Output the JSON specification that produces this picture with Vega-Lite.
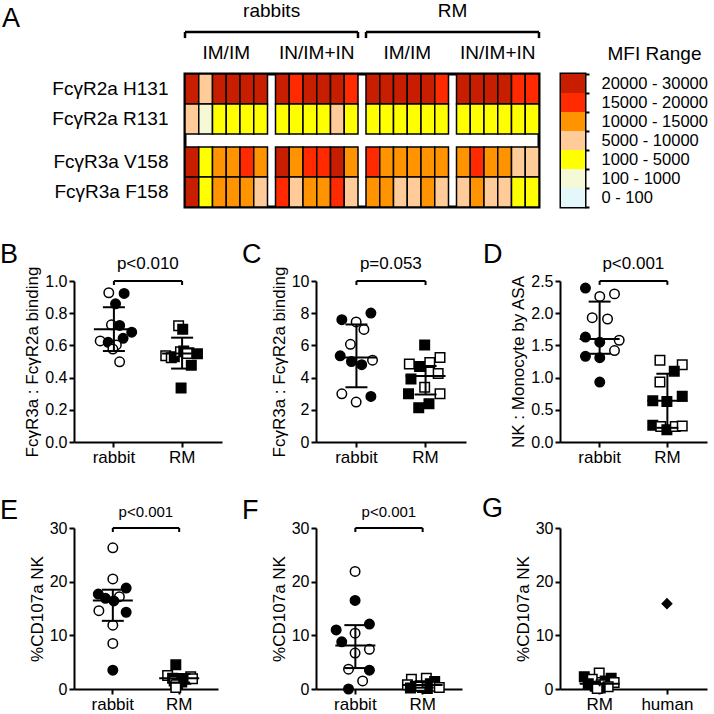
{
"$schema":"https://vega.github.io/schema/vega-lite/v6.json",
"padding":{"left":0,"top":0,"right":0,"bottom":0},
"background":"white",
"config":{
 "view":{"stroke":null},
 "font":"Liberation Sans",
 "axis":{"labelFont":"Liberation Sans","titleFont":"Liberation Sans","labelFontSize":16,"titleFontSize":17,"titleFontWeight":"normal","domainColor":"black","domainWidth":2,"tickColor":"black","tickWidth":2,"tickSize":5,"labelColor":"black","titleColor":"black","grid":false,"titlePadding":3},
 "title":{"font":"Liberation Sans","fontSize":27,"fontWeight":"normal","anchor":"start","frame":"group","color":"black","offset":0,"baseline":"alphabetic"},
 "text":{"font":"Liberation Sans","color":"black"}
},
"spacing":30,
"vconcat":[
{"hconcat":[
 {"width":89,"height":133,"data":{"values":[{}]},"mark":{"type":"rect","opacity":0},"encoding":{}},
 {"width":354,"height":133,
  "title":{"text":"A","dx":-183,"dy":35},
  "view":{"stroke":"black","strokeWidth":3},
  "resolve":{"scale":{"y":"independent"}},
  "layer":[
   {"data":{"values":[
{"b":"rabbits IM/IM","s":1,"H131":"20000 - 30000","R131":"5000 - 10000","V158":"20000 - 30000","F158":"20000 - 30000"},
{"b":"rabbits IM/IM","s":2,"H131":"5000 - 10000","R131":"100 - 1000","V158":"1000 - 5000","F158":"1000 - 5000"},
{"b":"rabbits IM/IM","s":3,"H131":"20000 - 30000","R131":"1000 - 5000","V158":"10000 - 15000","F158":"10000 - 15000"},
{"b":"rabbits IM/IM","s":4,"H131":"20000 - 30000","R131":"1000 - 5000","V158":"10000 - 15000","F158":"10000 - 15000"},
{"b":"rabbits IM/IM","s":5,"H131":"20000 - 30000","R131":"1000 - 5000","V158":"15000 - 20000","F158":"10000 - 15000"},
{"b":"rabbits IM/IM","s":6,"H131":"20000 - 30000","R131":"1000 - 5000","V158":"10000 - 15000","F158":"5000 - 10000"},
{"b":"rabbits IN/IM+IN","s":1,"H131":"20000 - 30000","R131":"1000 - 5000","V158":"20000 - 30000","F158":"15000 - 20000"},
{"b":"rabbits IN/IM+IN","s":2,"H131":"15000 - 20000","R131":"1000 - 5000","V158":"10000 - 15000","F158":"5000 - 10000"},
{"b":"rabbits IN/IM+IN","s":3,"H131":"20000 - 30000","R131":"1000 - 5000","V158":"15000 - 20000","F158":"10000 - 15000"},
{"b":"rabbits IN/IM+IN","s":4,"H131":"20000 - 30000","R131":"1000 - 5000","V158":"15000 - 20000","F158":"10000 - 15000"},
{"b":"rabbits IN/IM+IN","s":5,"H131":"20000 - 30000","R131":"5000 - 10000","V158":"20000 - 30000","F158":"15000 - 20000"},
{"b":"rabbits IN/IM+IN","s":6,"H131":"15000 - 20000","R131":"1000 - 5000","V158":"10000 - 15000","F158":"5000 - 10000"},
{"b":"RM IM/IM","s":1,"H131":"20000 - 30000","R131":"1000 - 5000","V158":"15000 - 20000","F158":"10000 - 15000"},
{"b":"RM IM/IM","s":2,"H131":"20000 - 30000","R131":"1000 - 5000","V158":"10000 - 15000","F158":"10000 - 15000"},
{"b":"RM IM/IM","s":3,"H131":"20000 - 30000","R131":"1000 - 5000","V158":"10000 - 15000","F158":"5000 - 10000"},
{"b":"RM IM/IM","s":4,"H131":"20000 - 30000","R131":"1000 - 5000","V158":"10000 - 15000","F158":"5000 - 10000"},
{"b":"RM IM/IM","s":5,"H131":"20000 - 30000","R131":"1000 - 5000","V158":"10000 - 15000","F158":"10000 - 15000"},
{"b":"RM IM/IM","s":6,"H131":"15000 - 20000","R131":"1000 - 5000","V158":"10000 - 15000","F158":"5000 - 10000"},
{"b":"RM IN/IM+IN","s":1,"H131":"20000 - 30000","R131":"1000 - 5000","V158":"10000 - 15000","F158":"5000 - 10000"},
{"b":"RM IN/IM+IN","s":2,"H131":"20000 - 30000","R131":"1000 - 5000","V158":"15000 - 20000","F158":"10000 - 15000"},
{"b":"RM IN/IM+IN","s":3,"H131":"20000 - 30000","R131":"1000 - 5000","V158":"10000 - 15000","F158":"5000 - 10000"},
{"b":"RM IN/IM+IN","s":4,"H131":"20000 - 30000","R131":"1000 - 5000","V158":"10000 - 15000","F158":"5000 - 10000"},
{"b":"RM IN/IM+IN","s":5,"H131":"15000 - 20000","R131":"1000 - 5000","V158":"5000 - 10000","F158":"1000 - 5000"},
{"b":"RM IN/IM+IN","s":6,"H131":"15000 - 20000","R131":"1000 - 5000","V158":"5000 - 10000","F158":"1000 - 5000"}
   ]},
   "transform":[
    {"fold":["H131","R131","V158","F158"],"as":["allele","r"]},
    {"calculate":"indexof(['H131','R131'], datum.allele) >= 0 ? 'FcγR2a' : 'FcγR3a'","as":"rec"},
    {"calculate":"indexof(['H131','V158'], datum.allele) >= 0 ? 'high' : 'low'","as":"aff"}
   ],
   "mark":{"type":"rect","stroke":"black","strokeWidth":1.5},
   "encoding":{
    "x":{"field":"b","type":"nominal","scale":{"domain":["rabbits IM/IM","rabbits IN/IM+IN","RM IM/IM","RM IN/IM+IN"],"paddingInner":0.0884,"paddingOuter":0},"axis":null},
    "xOffset":{"field":"s","type":"ordinal","scale":{"paddingInner":0,"paddingOuter":0}},
    "y":{"field":"rec","type":"nominal","scale":{"domain":["FcγR2a","FcγR3a"],"paddingInner":0.178,"paddingOuter":0},"axis":{"title":null,"ticks":false,"domain":false,"labelFontSize":19,"labelPadding":17,"labelLineHeight":30,"labelOffset":-15,"labelExpr":"datum.value == 'FcγR2a' ? ['FcγR2a H131','FcγR2a R131'] : ['FcγR3a V158','FcγR3a F158']"}},
    "yOffset":{"field":"aff","type":"nominal","scale":{"domain":["high","low"],"paddingInner":0,"paddingOuter":0}},
    "color":{"field":"r","type":"nominal","scale":{"domain":["20000 - 30000","15000 - 20000","10000 - 15000","5000 - 10000","1000 - 5000","100 - 1000","0 - 100"],"range":["#c81e00","#ff2a00","#ff9400","#ffcc99","#ffff00","#f5f9d6","#e4f7fb"]},"legend":null}
   }},
   {"layer":[
     {"data":{"values":[{"b":"rabbits IM/IM","t":"IM/IM"},{"b":"rabbits IN/IM+IN","t":"IN/IM+IN"},{"b":"RM IM/IM","t":"IM/IM"},{"b":"RM IN/IM+IN","t":"IN/IM+IN"}]},
      "mark":{"type":"text","fontSize":19,"baseline":"middle","align":"center"},
      "encoding":{"x":{"field":"b","type":"nominal","axis":null},"y":{"datum":1.158,"type":"quantitative","scale":{"domain":[0,1],"nice":false,"zero":false},"axis":null},"text":{"field":"t"}}},
     {"data":{"values":[{"sp":"rabbits","f":"rabbits IM/IM","l":"rabbits IN/IM+IN"},{"sp":"RM","f":"RM IM/IM","l":"RM IN/IM+IN"}]},
      "layer":[
       {"mark":{"type":"text","fontSize":19,"baseline":"middle","align":"center"},
        "encoding":{"x":{"field":"f","type":"nominal","bandPosition":1.05,"axis":null},"y":{"datum":1.47,"type":"quantitative","scale":{"domain":[0,1],"nice":false,"zero":false},"axis":null},"text":{"field":"sp"}}},
       {"mark":{"type":"rule","color":"black","strokeWidth":2.5},
        "encoding":{"x":{"field":"f","type":"nominal","bandPosition":0,"axis":null},"x2":{"field":"l","bandPosition":1},"y":{"datum":1.316,"type":"quantitative","scale":{"domain":[0,1],"nice":false,"zero":false},"axis":null}}},
       {"mark":{"type":"rule","color":"black","strokeWidth":2.5},
        "encoding":{"x":{"field":"f","type":"nominal","bandPosition":0,"axis":null},"y":{"datum":1.316,"type":"quantitative","scale":{"domain":[0,1],"nice":false,"zero":false},"axis":null},"y2":{"datum":1.27}}},
       {"mark":{"type":"rule","color":"black","strokeWidth":2.5},
        "encoding":{"x":{"field":"l","type":"nominal","bandPosition":1,"axis":null},"y":{"datum":1.316,"type":"quantitative","scale":{"domain":[0,1],"nice":false,"zero":false},"axis":null},"y2":{"datum":1.27}}}
      ]}
   ]}
  ]},
 {"width":24,"height":133,
  "view":{"stroke":"black","strokeWidth":3},
  "data":{"values":[{"r":"20000 - 30000"},{"r":"15000 - 20000"},{"r":"10000 - 15000"},{"r":"5000 - 10000"},{"r":"1000 - 5000"},{"r":"100 - 1000"},{"r":"0 - 100"}]},
  "mark":{"type":"rect"},
  "encoding":{
   "y":{"field":"r","type":"nominal","scale":{"domain":["20000 - 30000","15000 - 20000","10000 - 15000","5000 - 10000","1000 - 5000","100 - 1000","0 - 100"],"paddingInner":0,"paddingOuter":0},"axis":{"orient":"right","title":"MFI Range","titleAngle":0,"titleAlign":"left","titleBaseline":"middle","titleX":22,"titleY":-21,"titleFontSize":19,"labelFontSize":16.5,"labelPadding":12,"tickBand":"extent","tickSize":4,"domain":false}},
   "color":{"field":"r","type":"nominal","scale":{"domain":["20000 - 30000","15000 - 20000","10000 - 15000","5000 - 10000","1000 - 5000","100 - 1000","0 - 100"],"range":["#c81e00","#ff2a00","#ff9400","#ffcc99","#ffff00","#f5f9d6","#e4f7fb"]},"legend":null}
  }}
 ],"spacing":22,"bounds":"flush"},
{"hconcat":[
 {"width":148,"height":161,
  "title":{"text":"B","dx":-74,"dy":18},
  "layer":[
   {"data":{"values":[
    {"g":"rabbit","m":"open","v":0.927,"j":-0.25},{"g":"rabbit","m":"filled","v":0.923,"j":0.5},{"g":"rabbit","m":"filled","v":0.858,"j":0.08},{"g":"rabbit","m":"open","v":0.728,"j":-0.12},{"g":"rabbit","m":"filled","v":0.724,"j":0.28},{"g":"rabbit","m":"filled","v":0.682,"j":0.87},{"g":"rabbit","m":"filled","v":0.644,"j":0.45},{"g":"rabbit","m":"open","v":0.628,"j":-0.67},{"g":"rabbit","m":"filled","v":0.619,"j":-0.28},{"g":"rabbit","m":"open","v":0.603,"j":0.12},{"g":"rabbit","m":"open","v":0.577,"j":-0.05},{"g":"rabbit","m":"open","v":0.498,"j":0.28},
    {"g":"RM","m":"open","v":0.722,"j":-0.17},{"g":"RM","m":"filled","v":0.70,"j":0.03},{"g":"RM","m":"open","v":0.535,"j":-0.8},{"g":"RM","m":"open","v":0.523,"j":-0.53},{"g":"RM","m":"filled","v":0.53,"j":-0.38},{"g":"RM","m":"open","v":0.56,"j":-0.08},{"g":"RM","m":"filled","v":0.565,"j":0.08},{"g":"RM","m":"open","v":0.554,"j":0.33},{"g":"RM","m":"filled","v":0.548,"j":0.75},{"g":"RM","m":"filled","v":0.477,"j":0.45},{"g":"RM","m":"filled","v":0.335,"j":-0.05},{"g":"RM","m":"open","v":0.55,"j":0.25}
   ]},
   "mark":{"type":"point","filled":true,"size":90,"stroke":"black","strokeWidth":1.5,"opacity":1},
   "encoding":{
    "x":{"field":"g","type":"nominal","scale":{"domain":["rabbit","RM"],"paddingInner":0.4,"paddingOuter":0.285},"axis":{"title":null,"labelAngle":0,"labelFontSize":17}},
    "xOffset":{"field":"j","type":"quantitative","scale":{"domain":[-1,1]}},
    "y":{"field":"v","type":"quantitative","scale":{"domain":[0,1],"nice":false},"axis":{"title":"FcγR3a : FcγR2a binding","values":[0,0.2,0.4,0.6,0.8,1],"format":".1f"}},
    "shape":{"field":"g","type":"nominal","scale":{"domain":["rabbit","RM","human"],"range":["circle","square","diamond"]},"legend":null},
    "fill":{"field":"m","type":"nominal","scale":{"domain":["filled","open"],"range":["black","white"]},"legend":null}
   }},
   {"data":{"values":[{"g":"rabbit","mean":0.70,"lo":0.565,"hi":0.837},{"g":"RM","mean":0.55,"lo":0.456,"hi":0.648}]},
    "encoding":{"x":{"field":"g","type":"nominal","scale":{"domain":["rabbit","RM"],"paddingInner":0.4,"paddingOuter":0.285},"axis":{"title":null,"labelAngle":0,"labelFontSize":17}}},
    "layer":[
     {"mark":{"type":"rule","color":"black","strokeWidth":2},"encoding":{"y":{"field":"lo","type":"quantitative","scale":{"domain":[0,1],"nice":false},"axis":{"title":"FcγR3a : FcγR2a binding","values":[0,0.2,0.4,0.6,0.8,1],"format":".1f"}},"y2":{"field":"hi"}}},
     {"mark":{"type":"tick","orient":"horizontal","color":"black","thickness":2,"size":40,"opacity":1},"encoding":{"y":{"field":"mean","type":"quantitative","scale":{"domain":[0,1],"nice":false},"axis":{"title":"FcγR3a : FcγR2a binding","values":[0,0.2,0.4,0.6,0.8,1],"format":".1f"}}}},
     {"mark":{"type":"tick","orient":"horizontal","color":"black","thickness":2,"size":22,"opacity":1},"encoding":{"y":{"field":"lo","type":"quantitative","scale":{"domain":[0,1],"nice":false},"axis":{"title":"FcγR3a : FcγR2a binding","values":[0,0.2,0.4,0.6,0.8,1],"format":".1f"}}}},
     {"mark":{"type":"tick","orient":"horizontal","color":"black","thickness":2,"size":22,"opacity":1},"encoding":{"y":{"field":"hi","type":"quantitative","scale":{"domain":[0,1],"nice":false},"axis":{"title":"FcγR3a : FcγR2a binding","values":[0,0.2,0.4,0.6,0.8,1],"format":".1f"}}}}
    ]},
   {"data":{"values":[{"g":"rabbit"},{"g":"RM"}]},
    "mark":{"type":"rule","color":"black","strokeWidth":2},
    "encoding":{"x":{"field":"g","type":"nominal","axis":{"title":null,"labelAngle":0,"labelFontSize":17}},"y":{"datum":1,"type":"quantitative","scale":{"domain":[0,1],"nice":false},"axis":{"title":"FcγR3a : FcγR2a binding","values":[0,0.2,0.4,0.6,0.8,1],"format":".1f"}},"y2":{"datum":0.975}}},
   {"data":{"values":[{"a":"rabbit","b":"RM","p":"p<0.010"}]},
    "layer":[
     {"mark":{"type":"rule","color":"black","strokeWidth":2},"encoding":{"x":{"field":"a","type":"nominal","bandPosition":0.5,"axis":{"title":null,"labelAngle":0,"labelFontSize":17}},"x2":{"field":"b","bandPosition":0.5},"y":{"datum":1,"type":"quantitative","scale":{"domain":[0,1],"nice":false},"axis":{"title":"FcγR3a : FcγR2a binding","values":[0,0.2,0.4,0.6,0.8,1],"format":".1f"}}}},
     {"mark":{"type":"text","fontSize":17,"baseline":"middle","align":"center"},"encoding":{"x":{"field":"a","type":"nominal","bandPosition":1.33,"axis":{"title":null,"labelAngle":0,"labelFontSize":17}},"y":{"datum":1.106,"type":"quantitative","scale":{"domain":[0,1],"nice":false},"axis":{"title":"FcγR3a : FcγR2a binding","values":[0,0.2,0.4,0.6,0.8,1],"format":".1f"}},"text":{"field":"p"}}}
    ]}
  ]},
 {"width":150,"height":161,
  "title":{"text":"C","dx":-74,"dy":18},
  "layer":[
   {"data":{"values":[
    {"g":"rabbit","m":"filled","v":7.60,"j":-0.7},{"g":"rabbit","m":"open","v":7.46,"j":0},{"g":"rabbit","m":"filled","v":8.01,"j":0.72},{"g":"rabbit","m":"open","v":6.99,"j":0.38},{"g":"rabbit","m":"open","v":6.07,"j":-0.28},{"g":"rabbit","m":"filled","v":5.35,"j":-0.78},{"g":"rabbit","m":"filled","v":5.0,"j":-0.23},{"g":"rabbit","m":"open","v":5.08,"j":0.8},{"g":"rabbit","m":"filled","v":4.8,"j":0.27},{"g":"rabbit","m":"open","v":2.99,"j":-0.7},{"g":"rabbit","m":"open","v":2.48,"j":0},{"g":"rabbit","m":"filled","v":2.83,"j":0.72},
    {"g":"RM","m":"filled","v":6.02,"j":-0.03},{"g":"RM","m":"open","v":4.84,"j":-0.78},{"g":"RM","m":"filled","v":4.69,"j":-0.28},{"g":"RM","m":"open","v":4.94,"j":0.22},{"g":"RM","m":"open","v":5.25,"j":0.72},{"g":"RM","m":"open","v":4.26,"j":0.63},{"g":"RM","m":"filled","v":3.91,"j":-0.7},{"g":"RM","m":"open","v":3.40,"j":-0.03},{"g":"RM","m":"filled","v":2.99,"j":-0.82},{"g":"RM","m":"open","v":2.99,"j":0.72},{"g":"RM","m":"filled","v":2.13,"j":-0.32},{"g":"RM","m":"filled","v":2.38,"j":0.18}
   ]},
   "mark":{"type":"point","filled":true,"size":90,"stroke":"black","strokeWidth":1.5,"opacity":1},
   "encoding":{
    "x":{"field":"g","type":"nominal","scale":{"domain":["rabbit","RM"],"paddingInner":0.4,"paddingOuter":0.285},"axis":{"title":null,"labelAngle":0,"labelFontSize":17}},
    "xOffset":{"field":"j","type":"quantitative","scale":{"domain":[-1,1]}},
    "y":{"field":"v","type":"quantitative","scale":{"domain":[0,10],"nice":false},"axis":{"title":"FcγR3a : FcγR2a binding","values":[0,2,4,6,8,10]}},
    "shape":{"field":"g","type":"nominal","scale":{"domain":["rabbit","RM","human"],"range":["circle","square","diamond"]},"legend":null},
    "fill":{"field":"m","type":"nominal","scale":{"domain":["filled","open"],"range":["black","white"]},"legend":null}
   }},
   {"data":{"values":[{"g":"rabbit","mean":5.25,"lo":3.40,"hi":7.30},{"g":"RM","mean":4.10,"lo":2.95,"hi":4.72}]},
    "encoding":{"x":{"field":"g","type":"nominal","scale":{"domain":["rabbit","RM"],"paddingInner":0.4,"paddingOuter":0.285},"axis":{"title":null,"labelAngle":0,"labelFontSize":17}}},
    "layer":[
     {"mark":{"type":"rule","color":"black","strokeWidth":2},"encoding":{"y":{"field":"lo","type":"quantitative","scale":{"domain":[0,10],"nice":false},"axis":{"title":"FcγR3a : FcγR2a binding","values":[0,2,4,6,8,10]}},"y2":{"field":"hi"}}},
     {"mark":{"type":"tick","orient":"horizontal","color":"black","thickness":2,"size":40,"opacity":1},"encoding":{"y":{"field":"mean","type":"quantitative","scale":{"domain":[0,10],"nice":false},"axis":{"title":"FcγR3a : FcγR2a binding","values":[0,2,4,6,8,10]}}}},
     {"mark":{"type":"tick","orient":"horizontal","color":"black","thickness":2,"size":22,"opacity":1},"encoding":{"y":{"field":"lo","type":"quantitative","scale":{"domain":[0,10],"nice":false},"axis":{"title":"FcγR3a : FcγR2a binding","values":[0,2,4,6,8,10]}}}},
     {"mark":{"type":"tick","orient":"horizontal","color":"black","thickness":2,"size":22,"opacity":1},"encoding":{"y":{"field":"hi","type":"quantitative","scale":{"domain":[0,10],"nice":false},"axis":{"title":"FcγR3a : FcγR2a binding","values":[0,2,4,6,8,10]}}}}
    ]},
   {"data":{"values":[{"g":"rabbit"},{"g":"RM"}]},
    "mark":{"type":"rule","color":"black","strokeWidth":2},
    "encoding":{"x":{"field":"g","type":"nominal","axis":{"title":null,"labelAngle":0,"labelFontSize":17}},"y":{"datum":10,"type":"quantitative","scale":{"domain":[0,10],"nice":false},"axis":{"title":"FcγR3a : FcγR2a binding","values":[0,2,4,6,8,10]}},"y2":{"datum":9.75}}},
   {"data":{"values":[{"a":"rabbit","b":"RM","p":"p=0.053"}]},
    "layer":[
     {"mark":{"type":"rule","color":"black","strokeWidth":2},"encoding":{"x":{"field":"a","type":"nominal","bandPosition":0.5,"axis":{"title":null,"labelAngle":0,"labelFontSize":17}},"x2":{"field":"b","bandPosition":0.5},"y":{"datum":10,"type":"quantitative","scale":{"domain":[0,10],"nice":false},"axis":{"title":"FcγR3a : FcγR2a binding","values":[0,2,4,6,8,10]}}}},
     {"mark":{"type":"text","fontSize":17,"baseline":"middle","align":"center"},"encoding":{"x":{"field":"a","type":"nominal","bandPosition":1.33,"axis":{"title":null,"labelAngle":0,"labelFontSize":17}},"y":{"datum":11.03,"type":"quantitative","scale":{"domain":[0,10],"nice":false},"axis":{"title":"FcγR3a : FcγR2a binding","values":[0,2,4,6,8,10]}},"text":{"field":"p"}}}
    ]}
  ]},
 {"width":147,"height":161,
  "title":{"text":"D","dx":-77,"dy":18},
  "layer":[
   {"data":{"values":[
    {"g":"rabbit","m":"filled","v":2.39,"j":-0.7},{"g":"rabbit","m":"open","v":2.26,"j":0},{"g":"rabbit","m":"open","v":2.30,"j":0.72},{"g":"rabbit","m":"open","v":1.93,"j":-0.37},{"g":"rabbit","m":"open","v":1.91,"j":0.38},{"g":"rabbit","m":"filled","v":1.63,"j":-0.7},{"g":"rabbit","m":"filled","v":1.55,"j":0},{"g":"rabbit","m":"open","v":1.58,"j":0.95},{"g":"rabbit","m":"open","v":1.42,"j":0.72},{"g":"rabbit","m":"filled","v":1.33,"j":-0.7},{"g":"rabbit","m":"filled","v":1.31,"j":0},{"g":"rabbit","m":"filled","v":0.93,"j":0},
    {"g":"RM","m":"open","v":1.27,"j":-0.37},{"g":"RM","m":"open","v":1.20,"j":0.72},{"g":"RM","m":"filled","v":1.10,"j":0.33},{"g":"RM","m":"open","v":0.93,"j":-0.37},{"g":"RM","m":"filled","v":0.71,"j":0.72},{"g":"RM","m":"filled","v":0.64,"j":-0.72},{"g":"RM","m":"filled","v":0.63,"j":-0.03},{"g":"RM","m":"filled","v":0.26,"j":-0.72},{"g":"RM","m":"open","v":0.24,"j":-0.33},{"g":"RM","m":"filled","v":0.19,"j":-0.03},{"g":"RM","m":"open","v":0.24,"j":0.38},{"g":"RM","m":"open","v":0.25,"j":0.72}
   ]},
   "mark":{"type":"point","filled":true,"size":90,"stroke":"black","strokeWidth":1.5,"opacity":1},
   "encoding":{
    "x":{"field":"g","type":"nominal","scale":{"domain":["rabbit","RM"],"paddingInner":0.4,"paddingOuter":0.285},"axis":{"title":null,"labelAngle":0,"labelFontSize":17}},
    "xOffset":{"field":"j","type":"quantitative","scale":{"domain":[-1,1]}},
    "y":{"field":"v","type":"quantitative","scale":{"domain":[0,2.5],"nice":false},"axis":{"title":"NK : Monocyte by ASA","values":[0,0.5,1,1.5,2,2.5],"format":".1f"}},
    "shape":{"field":"g","type":"nominal","scale":{"domain":["rabbit","RM","human"],"range":["circle","square","diamond"]},"legend":null},
    "fill":{"field":"m","type":"nominal","scale":{"domain":["filled","open"],"range":["black","white"]},"legend":null}
   }},
   {"data":{"values":[{"g":"rabbit","mean":1.60,"lo":1.37,"hi":2.18},{"g":"RM","mean":0.64,"lo":0.22,"hi":1.06}]},
    "encoding":{"x":{"field":"g","type":"nominal","scale":{"domain":["rabbit","RM"],"paddingInner":0.4,"paddingOuter":0.285},"axis":{"title":null,"labelAngle":0,"labelFontSize":17}}},
    "layer":[
     {"mark":{"type":"rule","color":"black","strokeWidth":2},"encoding":{"y":{"field":"lo","type":"quantitative","scale":{"domain":[0,2.5],"nice":false},"axis":{"title":"NK : Monocyte by ASA","values":[0,0.5,1,1.5,2,2.5],"format":".1f"}},"y2":{"field":"hi"}}},
     {"mark":{"type":"tick","orient":"horizontal","color":"black","thickness":2,"size":40,"opacity":1},"encoding":{"y":{"field":"mean","type":"quantitative","scale":{"domain":[0,2.5],"nice":false},"axis":{"title":"NK : Monocyte by ASA","values":[0,0.5,1,1.5,2,2.5],"format":".1f"}}}},
     {"mark":{"type":"tick","orient":"horizontal","color":"black","thickness":2,"size":22,"opacity":1},"encoding":{"y":{"field":"lo","type":"quantitative","scale":{"domain":[0,2.5],"nice":false},"axis":{"title":"NK : Monocyte by ASA","values":[0,0.5,1,1.5,2,2.5],"format":".1f"}}}},
     {"mark":{"type":"tick","orient":"horizontal","color":"black","thickness":2,"size":22,"opacity":1},"encoding":{"y":{"field":"hi","type":"quantitative","scale":{"domain":[0,2.5],"nice":false},"axis":{"title":"NK : Monocyte by ASA","values":[0,0.5,1,1.5,2,2.5],"format":".1f"}}}}
    ]},
   {"data":{"values":[{"g":"rabbit"},{"g":"RM"}]},
    "mark":{"type":"rule","color":"black","strokeWidth":2},
    "encoding":{"x":{"field":"g","type":"nominal","axis":{"title":null,"labelAngle":0,"labelFontSize":17}},"y":{"datum":2.5,"type":"quantitative","scale":{"domain":[0,2.5],"nice":false},"axis":{"title":"NK : Monocyte by ASA","values":[0,0.5,1,1.5,2,2.5],"format":".1f"}},"y2":{"datum":2.44}}},
   {"data":{"values":[{"a":"rabbit","b":"RM","p":"p<0.001"}]},
    "layer":[
     {"mark":{"type":"rule","color":"black","strokeWidth":2},"encoding":{"x":{"field":"a","type":"nominal","bandPosition":0.5,"axis":{"title":null,"labelAngle":0,"labelFontSize":17}},"x2":{"field":"b","bandPosition":0.5},"y":{"datum":2.5,"type":"quantitative","scale":{"domain":[0,2.5],"nice":false},"axis":{"title":"NK : Monocyte by ASA","values":[0,0.5,1,1.5,2,2.5],"format":".1f"}}}},
     {"mark":{"type":"text","fontSize":17,"baseline":"middle","align":"center"},"encoding":{"x":{"field":"a","type":"nominal","bandPosition":1.33,"axis":{"title":null,"labelAngle":0,"labelFontSize":17}},"y":{"datum":2.76,"type":"quantitative","scale":{"domain":[0,2.5],"nice":false},"axis":{"title":"NK : Monocyte by ASA","values":[0,0.5,1,1.5,2,2.5],"format":".1f"}},"text":{"field":"p"}}}
    ]}
  ]}
 ],"spacing":94,"bounds":"flush"},
{"hconcat":[
 {"width":144,"height":161,
  "title":{"text":"E","dx":-74,"dy":24},
  "layer":[
   {"data":{"values":[
    {"g":"rabbit","m":"open","v":26.3,"j":0},{"g":"rabbit","m":"open","v":20.5,"j":0},{"g":"rabbit","m":"filled","v":18.8,"j":0.67},{"g":"rabbit","m":"filled","v":17.7,"j":-0.73},{"g":"rabbit","m":"open","v":17.2,"j":0.33},{"g":"rabbit","m":"filled","v":16.9,"j":-0.37},{"g":"rabbit","m":"filled","v":16.4,"j":0.05},{"g":"rabbit","m":"open","v":14.6,"j":-0.7},{"g":"rabbit","m":"filled","v":14.3,"j":0.67},{"g":"rabbit","m":"open","v":11.9,"j":0},{"g":"rabbit","m":"open","v":8.5,"j":0},{"g":"rabbit","m":"filled","v":3.5,"j":0},
    {"g":"RM","m":"filled","v":4.5,"j":-0.17},{"g":"RM","m":"open","v":2.5,"j":-0.58},{"g":"RM","m":"open","v":2.3,"j":0.58},{"g":"RM","m":"filled","v":2.0,"j":-0.33},{"g":"RM","m":"filled","v":1.8,"j":0.33},{"g":"RM","m":"filled","v":1.5,"j":0},{"g":"RM","m":"open","v":1.5,"j":-0.25},{"g":"RM","m":"filled","v":1.3,"j":0.13},{"g":"RM","m":"filled","v":1.0,"j":-0.08},{"g":"RM","m":"open","v":0.8,"j":-0.17},{"g":"RM","m":"open","v":1.9,"j":0.67},{"g":"RM","m":"open","v":0.3,"j":-0.17}
   ]},
   "mark":{"type":"point","filled":true,"size":90,"stroke":"black","strokeWidth":1.5,"opacity":1},
   "encoding":{
    "x":{"field":"g","type":"nominal","scale":{"domain":["rabbit","RM"],"paddingInner":0.4,"paddingOuter":0.285},"axis":{"title":null,"labelAngle":0,"labelFontSize":17}},
    "xOffset":{"field":"j","type":"quantitative","scale":{"domain":[-1,1]}},
    "y":{"field":"v","type":"quantitative","scale":{"domain":[0,30],"nice":false},"axis":{"title":"%CD107a NK","values":[0,10,20,30]}},
    "shape":{"field":"g","type":"nominal","scale":{"domain":["rabbit","RM","human"],"range":["circle","square","diamond"]},"legend":null},
    "fill":{"field":"m","type":"nominal","scale":{"domain":["filled","open"],"range":["black","white"]},"legend":null}
   }},
   {"data":{"values":[{"g":"rabbit","mean":16.5,"lo":12.7,"hi":18.5},{"g":"RM","mean":2.0,"lo":1.2,"hi":2.8}]},
    "encoding":{"x":{"field":"g","type":"nominal","scale":{"domain":["rabbit","RM"],"paddingInner":0.4,"paddingOuter":0.285},"axis":{"title":null,"labelAngle":0,"labelFontSize":17}}},
    "layer":[
     {"mark":{"type":"rule","color":"black","strokeWidth":2},"encoding":{"y":{"field":"lo","type":"quantitative","scale":{"domain":[0,30],"nice":false},"axis":{"title":"%CD107a NK","values":[0,10,20,30]}},"y2":{"field":"hi"}}},
     {"mark":{"type":"tick","orient":"horizontal","color":"black","thickness":2,"size":40,"opacity":1},"encoding":{"y":{"field":"mean","type":"quantitative","scale":{"domain":[0,30],"nice":false},"axis":{"title":"%CD107a NK","values":[0,10,20,30]}}}},
     {"mark":{"type":"tick","orient":"horizontal","color":"black","thickness":2,"size":22,"opacity":1},"encoding":{"y":{"field":"lo","type":"quantitative","scale":{"domain":[0,30],"nice":false},"axis":{"title":"%CD107a NK","values":[0,10,20,30]}}}},
     {"mark":{"type":"tick","orient":"horizontal","color":"black","thickness":2,"size":22,"opacity":1},"encoding":{"y":{"field":"hi","type":"quantitative","scale":{"domain":[0,30],"nice":false},"axis":{"title":"%CD107a NK","values":[0,10,20,30]}}}}
    ]},
   {"data":{"values":[{"g":"rabbit"},{"g":"RM"}]},
    "mark":{"type":"rule","color":"black","strokeWidth":2},
    "encoding":{"x":{"field":"g","type":"nominal","axis":{"title":null,"labelAngle":0,"labelFontSize":17}},"y":{"datum":30,"type":"quantitative","scale":{"domain":[0,30],"nice":false},"axis":{"title":"%CD107a NK","values":[0,10,20,30]}},"y2":{"datum":29.25}}},
   {"data":{"values":[{"a":"rabbit","b":"RM","p":"p<0.001"}]},
    "layer":[
     {"mark":{"type":"rule","color":"black","strokeWidth":2},"encoding":{"x":{"field":"a","type":"nominal","bandPosition":0.5,"axis":{"title":null,"labelAngle":0,"labelFontSize":17}},"x2":{"field":"b","bandPosition":0.5},"y":{"datum":30,"type":"quantitative","scale":{"domain":[0,30],"nice":false},"axis":{"title":"%CD107a NK","values":[0,10,20,30]}}}},
     {"mark":{"type":"text","fontSize":15,"baseline":"middle","align":"center"},"encoding":{"x":{"field":"a","type":"nominal","bandPosition":1.33,"axis":{"title":null,"labelAngle":0,"labelFontSize":17}},"y":{"datum":32.9,"type":"quantitative","scale":{"domain":[0,30],"nice":false},"axis":{"title":"%CD107a NK","values":[0,10,20,30]}},"text":{"field":"p"}}}
    ]}
  ]},
 {"width":146,"height":161,
  "title":{"text":"F","dx":-74,"dy":24},
  "layer":[
   {"data":{"values":[
    {"g":"rabbit","m":"open","v":21.9,"j":0},{"g":"rabbit","m":"filled","v":16.5,"j":0},{"g":"rabbit","m":"filled","v":11.0,"j":-0.95},{"g":"rabbit","m":"filled","v":12.1,"j":0.72},{"g":"rabbit","m":"open","v":10.4,"j":0},{"g":"rabbit","m":"filled","v":8.8,"j":-0.67},{"g":"rabbit","m":"open","v":7.4,"j":0.72},{"g":"rabbit","m":"open","v":6.7,"j":0},{"g":"rabbit","m":"open","v":3.7,"j":-0.33},{"g":"rabbit","m":"filled","v":3.5,"j":0.72},{"g":"rabbit","m":"open","v":1.5,"j":0.38},{"g":"rabbit","m":"filled","v":0.0,"j":-0.33},
    {"g":"RM","m":"open","v":1.8,"j":-0.55},{"g":"RM","m":"open","v":2.0,"j":0.2},{"g":"RM","m":"filled","v":1.4,"j":0.62},{"g":"RM","m":"filled","v":1.0,"j":0.4},{"g":"RM","m":"open","v":0.8,"j":-0.75},{"g":"RM","m":"filled","v":0.5,"j":-0.35},{"g":"RM","m":"filled","v":0.3,"j":0},{"g":"RM","m":"open","v":0.5,"j":0.55},{"g":"RM","m":"filled","v":0.2,"j":-0.6},{"g":"RM","m":"open","v":0.3,"j":0.85},{"g":"RM","m":"filled","v":0.1,"j":0.25},{"g":"RM","m":"open","v":0.6,"j":-0.1}
   ]},
   "mark":{"type":"point","filled":true,"size":90,"stroke":"black","strokeWidth":1.5,"opacity":1},
   "encoding":{
    "x":{"field":"g","type":"nominal","scale":{"domain":["rabbit","RM"],"paddingInner":0.4,"paddingOuter":0.285},"axis":{"title":null,"labelAngle":0,"labelFontSize":17}},
    "xOffset":{"field":"j","type":"quantitative","scale":{"domain":[-1,1]}},
    "y":{"field":"v","type":"quantitative","scale":{"domain":[0,30],"nice":false},"axis":{"title":"%CD107a NK","values":[0,10,20,30]}},
    "shape":{"field":"g","type":"nominal","scale":{"domain":["rabbit","RM","human"],"range":["circle","square","diamond"]},"legend":null},
    "fill":{"field":"m","type":"nominal","scale":{"domain":["filled","open"],"range":["black","white"]},"legend":null}
   }},
   {"data":{"values":[{"g":"rabbit","mean":8.1,"lo":3.9,"hi":11.9},{"g":"RM","mean":0.75,"lo":0.25,"hi":1.3}]},
    "encoding":{"x":{"field":"g","type":"nominal","scale":{"domain":["rabbit","RM"],"paddingInner":0.4,"paddingOuter":0.285},"axis":{"title":null,"labelAngle":0,"labelFontSize":17}}},
    "layer":[
     {"mark":{"type":"rule","color":"black","strokeWidth":2},"encoding":{"y":{"field":"lo","type":"quantitative","scale":{"domain":[0,30],"nice":false},"axis":{"title":"%CD107a NK","values":[0,10,20,30]}},"y2":{"field":"hi"}}},
     {"mark":{"type":"tick","orient":"horizontal","color":"black","thickness":2,"size":40,"opacity":1},"encoding":{"y":{"field":"mean","type":"quantitative","scale":{"domain":[0,30],"nice":false},"axis":{"title":"%CD107a NK","values":[0,10,20,30]}}}},
     {"mark":{"type":"tick","orient":"horizontal","color":"black","thickness":2,"size":22,"opacity":1},"encoding":{"y":{"field":"lo","type":"quantitative","scale":{"domain":[0,30],"nice":false},"axis":{"title":"%CD107a NK","values":[0,10,20,30]}}}},
     {"mark":{"type":"tick","orient":"horizontal","color":"black","thickness":2,"size":22,"opacity":1},"encoding":{"y":{"field":"hi","type":"quantitative","scale":{"domain":[0,30],"nice":false},"axis":{"title":"%CD107a NK","values":[0,10,20,30]}}}}
    ]},
   {"data":{"values":[{"g":"rabbit"},{"g":"RM"}]},
    "mark":{"type":"rule","color":"black","strokeWidth":2},
    "encoding":{"x":{"field":"g","type":"nominal","axis":{"title":null,"labelAngle":0,"labelFontSize":17}},"y":{"datum":30,"type":"quantitative","scale":{"domain":[0,30],"nice":false},"axis":{"title":"%CD107a NK","values":[0,10,20,30]}},"y2":{"datum":29.25}}},
   {"data":{"values":[{"a":"rabbit","b":"RM","p":"p<0.001"}]},
    "layer":[
     {"mark":{"type":"rule","color":"black","strokeWidth":2},"encoding":{"x":{"field":"a","type":"nominal","bandPosition":0.5,"axis":{"title":null,"labelAngle":0,"labelFontSize":17}},"x2":{"field":"b","bandPosition":0.5},"y":{"datum":30,"type":"quantitative","scale":{"domain":[0,30],"nice":false},"axis":{"title":"%CD107a NK","values":[0,10,20,30]}}}},
     {"mark":{"type":"text","fontSize":15,"baseline":"middle","align":"center"},"encoding":{"x":{"field":"a","type":"nominal","bandPosition":1.33,"axis":{"title":null,"labelAngle":0,"labelFontSize":17}},"y":{"datum":32.9,"type":"quantitative","scale":{"domain":[0,30],"nice":false},"axis":{"title":"%CD107a NK","values":[0,10,20,30]}},"text":{"field":"p"}}}
    ]}
  ]},
 {"width":147,"height":161,
  "title":{"text":"G","dx":-78,"dy":7},
  "layer":[
   {"data":{"values":[
    {"g":"RM","m":"open","v":3.0,"j":0},{"g":"RM","m":"filled","v":2.3,"j":-0.75},{"g":"RM","m":"filled","v":2.0,"j":0.6},{"g":"RM","m":"open","v":1.8,"j":-0.35},{"g":"RM","m":"filled","v":1.5,"j":0.3},{"g":"RM","m":"open","v":1.2,"j":0.75},{"g":"RM","m":"filled","v":1.0,"j":-0.55},{"g":"RM","m":"open","v":0.8,"j":0.1},{"g":"RM","m":"filled","v":0.5,"j":-0.2},{"g":"RM","m":"open","v":0.4,"j":0.45},{"g":"RM","m":"filled","v":0.2,"j":0.05},{"g":"RM","m":"open","v":0.1,"j":-0.1},
    {"g":"human","m":"filled","v":15.9,"j":0}
   ]},
   "mark":{"type":"point","filled":true,"size":90,"stroke":"black","strokeWidth":1.5,"opacity":1},
   "encoding":{
    "x":{"field":"g","type":"nominal","scale":{"domain":["RM","human"],"paddingInner":0.4,"paddingOuter":0.285},"axis":{"title":null,"labelAngle":0,"labelFontSize":17}},
    "xOffset":{"field":"j","type":"quantitative","scale":{"domain":[-1,1]}},
    "y":{"field":"v","type":"quantitative","scale":{"domain":[0,30],"nice":false},"axis":{"title":"%CD107a NK","values":[0,10,20,30]}},
    "shape":{"field":"g","type":"nominal","scale":{"domain":["rabbit","RM","human"],"range":["circle","square","diamond"]},"legend":null},
    "fill":{"field":"m","type":"nominal","scale":{"domain":["filled","open"],"range":["black","white"]},"legend":null}
   }},
   {"data":{"values":[{"g":"RM","mean":1.0,"lo":0.5,"hi":1.6}]},
    "encoding":{"x":{"field":"g","type":"nominal","scale":{"domain":["RM","human"],"paddingInner":0.4,"paddingOuter":0.285},"axis":{"title":null,"labelAngle":0,"labelFontSize":17}}},
    "layer":[
     {"mark":{"type":"rule","color":"black","strokeWidth":2},"encoding":{"y":{"field":"lo","type":"quantitative","scale":{"domain":[0,30],"nice":false},"axis":{"title":"%CD107a NK","values":[0,10,20,30]}},"y2":{"field":"hi"}}},
     {"mark":{"type":"tick","orient":"horizontal","color":"black","thickness":2,"size":40,"opacity":1},"encoding":{"y":{"field":"mean","type":"quantitative","scale":{"domain":[0,30],"nice":false},"axis":{"title":"%CD107a NK","values":[0,10,20,30]}}}}
    ]}
  ]}
 ],"spacing":98,"bounds":"flush"}
]
}
